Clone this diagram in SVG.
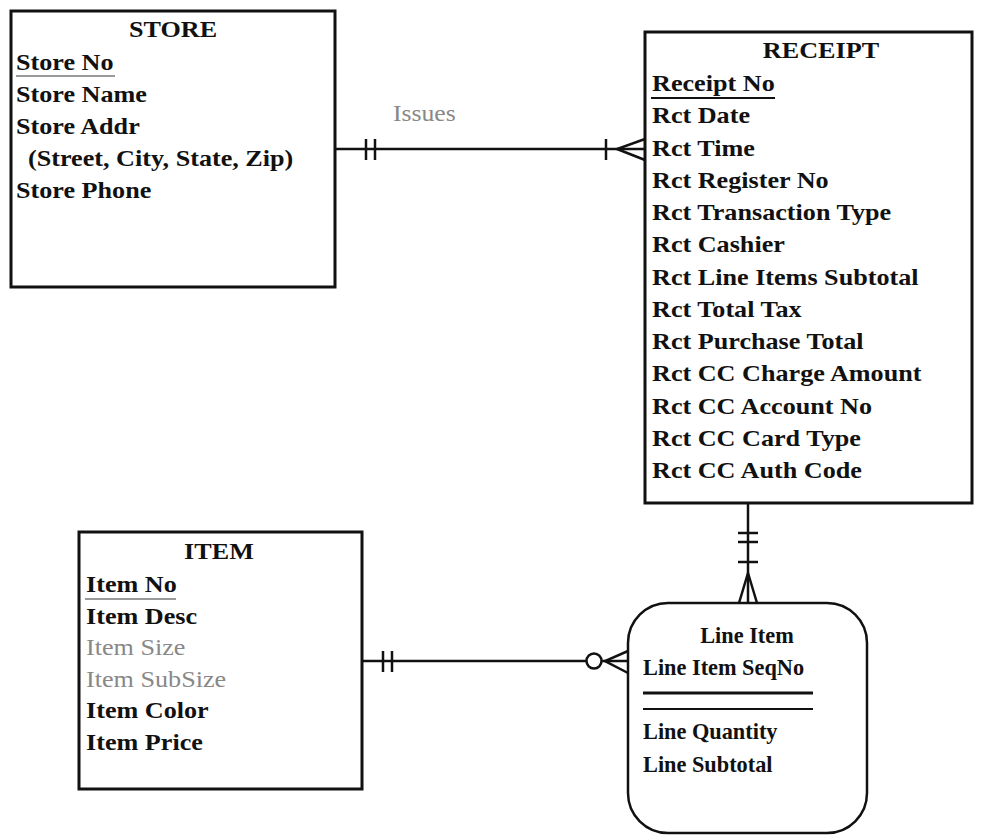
<svg xmlns="http://www.w3.org/2000/svg" width="985" height="835" viewBox="0 0 985 835">
<style>
  .box{fill:#fff;stroke:#111;stroke-width:3}
  .t{font-family:"Liberation Serif","Times New Roman",serif;font-size:24px;font-weight:bold;fill:#111}
  .g{font-family:"Liberation Serif","Times New Roman",serif;font-size:24px;font-weight:normal;fill:#888}
  .c{text-anchor:middle}
  .ln{stroke:#111;stroke-width:2.5;fill:none}
  .ul{stroke:#111;stroke-width:2}
  .ulg{stroke:#999;stroke-width:2}
</style>
<rect width="985" height="835" fill="#fff"/>
<g id="store">
  <rect class="box" x="11" y="11" width="324" height="276"/>
  <text class="t c" transform="matrix(1.09 0 0 1 173 37)">STORE</text>
  <text class="t" transform="matrix(1.09 0 0 1 16 70)">Store No</text>
  <line class="ulg" x1="16" y1="76" x2="115" y2="76"/>
  <text class="t" transform="matrix(1.09 0 0 1 16 102)">Store Name</text>
  <text class="t" transform="matrix(1.09 0 0 1 16 134)">Store Addr</text>
  <text class="t" transform="matrix(1.09 0 0 1 28 166)">(Street, City, State, Zip)</text>
  <text class="t" transform="matrix(1.09 0 0 1 16 198)">Store Phone</text>
</g>
<g id="receipt">
  <rect class="box" x="645" y="32" width="327" height="471"/>
  <text class="t c" transform="matrix(1.09 0 0 1 821 58)">RECEIPT</text>
  <text class="t" transform="matrix(1.09 0 0 1 652 91)">Receipt No</text>
  <line class="ul" x1="651" y1="98" x2="775" y2="98"/>
  <text class="t" transform="matrix(1.09 0 0 1 652 123.25)">Rct Date</text>
  <text class="t" transform="matrix(1.09 0 0 1 652 155.5)">Rct Time</text>
  <text class="t" transform="matrix(1.09 0 0 1 652 187.75)">Rct Register No</text>
  <text class="t" transform="matrix(1.09 0 0 1 652 220)">Rct Transaction Type</text>
  <text class="t" transform="matrix(1.09 0 0 1 652 252.25)">Rct Cashier</text>
  <text class="t" transform="matrix(1.09 0 0 1 652 284.5)">Rct Line Items Subtotal</text>
  <text class="t" transform="matrix(1.09 0 0 1 652 316.75)">Rct Total Tax</text>
  <text class="t" transform="matrix(1.09 0 0 1 652 349)">Rct Purchase Total</text>
  <text class="t" transform="matrix(1.09 0 0 1 652 381.25)">Rct CC Charge Amount</text>
  <text class="t" transform="matrix(1.09 0 0 1 652 413.5)">Rct CC Account No</text>
  <text class="t" transform="matrix(1.09 0 0 1 652 445.75)">Rct CC Card Type</text>
  <text class="t" transform="matrix(1.09 0 0 1 652 478)">Rct CC Auth Code</text>
</g>
<g id="item">
  <rect class="box" x="79" y="532" width="283" height="257"/>
  <text class="t c" transform="matrix(1.09 0 0 1 219 559)">ITEM</text>
  <text class="t" transform="matrix(1.09 0 0 1 86 592)">Item No</text>
  <line class="ulg" x1="85" y1="599" x2="176" y2="599"/>
  <text class="t" transform="matrix(1.09 0 0 1 86 623.5)">Item Desc</text>
  <text class="g" transform="matrix(1.09 0 0 1 86 655)">Item Size</text>
  <text class="g" transform="matrix(1.09 0 0 1 86 686.5)">Item SubSize</text>
  <text class="t" transform="matrix(1.09 0 0 1 86 718)">Item Color</text>
  <text class="t" transform="matrix(1.09 0 0 1 86 749.5)">Item Price</text>
</g>
<g id="lineitem">
  <rect class="box" style="stroke-width:2.5" x="628" y="603" width="239" height="230" rx="40" ry="40"/>
  <text class="t c" transform="matrix(0.93 0 0 1 747 643)">Line Item</text>
  <text class="t" transform="matrix(0.93 0 0 1 643 675)">Line Item SeqNo</text>
  <line stroke="#111" stroke-width="3" x1="643" y1="693" x2="813" y2="693"/>
  <line stroke="#111" stroke-width="2.2" x1="643" y1="709" x2="813" y2="709"/>
  <text class="t" transform="matrix(0.93 0 0 1 643 739)">Line Quantity</text>
  <text class="t" transform="matrix(0.93 0 0 1 643 772)">Line Subtotal</text>
</g>
<g id="connectors">
  <g id="issues">
    <line class="ln" x1="335" y1="149" x2="645" y2="149"/>
    <line class="ln" x1="366" y1="139" x2="366" y2="160"/>
    <line class="ln" x1="375" y1="139" x2="375" y2="160"/>
    <line class="ln" x1="606" y1="139" x2="606" y2="160"/>
    <path class="ln" d="M645,139 L617,149 L645,160"/>
    <text class="g" transform="matrix(1.07 0 0 1 393 121)">Issues</text>
  </g>
  <g id="receipt-lineitem">
    <line class="ln" x1="748" y1="503" x2="748" y2="603"/>
    <line class="ln" x1="738" y1="533" x2="758" y2="533"/>
    <line class="ln" x1="738" y1="542" x2="758" y2="542"/>
    <line class="ln" x1="738" y1="562" x2="758" y2="562"/>
    <path class="ln" d="M739,603 L748,573 L757,603"/>
  </g>
  <g id="item-lineitem">
    <line class="ln" x1="362" y1="661" x2="586" y2="661"/>
    <line class="ln" x1="383" y1="651" x2="383" y2="672"/>
    <line class="ln" x1="392" y1="651" x2="392" y2="672"/>
    <circle class="ln" cx="594" cy="661" r="7.5"/>
    <line class="ln" x1="602" y1="661" x2="628" y2="661"/>
    <path class="ln" d="M628,651 L605,661 L628,673"/>
  </g>
</g>
</svg>
